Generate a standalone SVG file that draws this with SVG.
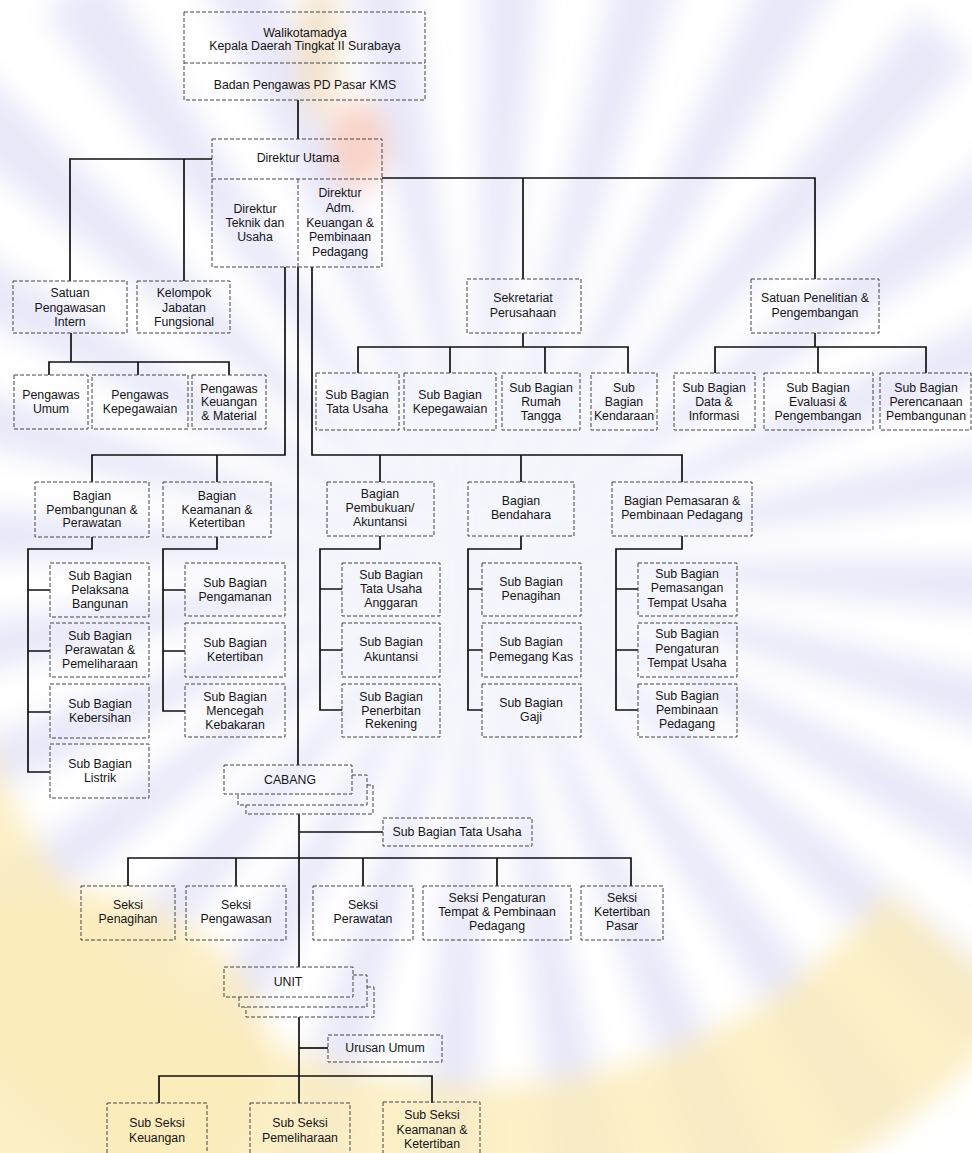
<svg xmlns="http://www.w3.org/2000/svg" width="972" height="1153" viewBox="0 0 972 1153">
  <defs>
    <filter id="haze" filterUnits="userSpaceOnUse" x="0" y="0" width="972" height="1153">
      <feGaussianBlur stdDeviation="14"/>
    </filter>
    <style>
      .box { fill: none; stroke: #444; stroke-width: 1; stroke-dasharray: 4 2; }
      .wire { fill: none; stroke: #111; stroke-width: 1.7; stroke-linejoin: miter; }
      text { font-family: "Liberation Sans", Arial, sans-serif; font-size: 12.3px; fill: #151515; text-anchor: middle; dominant-baseline: central; }
    </style>
  </defs>

  <!-- paper and faint seal printed behind the chart -->
  <rect x="0" y="0" width="972" height="1153" fill="#ffffff"/>
  <g id="watermark" filter="url(#haze)">
    <circle cx="480" cy="560" r="350" fill="none" stroke="#d8d8f5" stroke-width="700" stroke-dasharray="36 42.54" opacity="0.6"/>
    <circle cx="480" cy="560" r="615" fill="none" stroke="#fbedbd" stroke-width="180" stroke-dasharray="0 420 1720 1725" opacity="0.85"/>
    <ellipse cx="60" cy="1060" rx="210" ry="170" fill="#fbecbb" opacity="0.85"/>
    <ellipse cx="318" cy="50" rx="22" ry="70" fill="#f3e3cc"/>
    <ellipse cx="358" cy="145" rx="30" ry="45" fill="#f8cbbd" opacity="0.85"/>
  </g>

  <!-- connectors -->
  <g id="connectors" class="wire">
    <path d="M298 100 V139"/>
    <path d="M212 159 H70 V281"/>
    <path d="M184 159 V281"/>
    <path d="M382 178 H815 V279"/>
    <path d="M523 178 V279"/>
    <path d="M71 333 V362"/>
    <path d="M49 375 V362 H229 V375"/>
    <path d="M138 362 V375"/>
    <path d="M523 333 V347"/>
    <path d="M358 373 V347 H628 V373"/>
    <path d="M450 347 V373"/>
    <path d="M545 347 V373"/>
    <path d="M815 333 V347"/>
    <path d="M715 373 V347 H926 V373"/>
    <path d="M818 347 V373"/>
    <path d="M285 267 V455 H92 V482"/>
    <path d="M217 455 V482"/>
    <path d="M312 267 V455 H682 V482"/>
    <path d="M380 455 V482"/>
    <path d="M521 455 V482"/>
    <path d="M298 267 V765"/>
    <path d="M92 537 V549 H28 V772 H50"/>
    <path d="M28 590 H50 M28 651 H50 M28 712 H50"/>
    <path d="M217 537 V549 H163 V711 H185"/>
    <path d="M163 590 H185 M163 651 H185"/>
    <path d="M380 536 V549 H320 V710 H342"/>
    <path d="M320 589 H342 M320 650 H342"/>
    <path d="M521 536 V549 H468 V710 H482"/>
    <path d="M468 589 H482 M468 650 H482"/>
    <path d="M682 536 V549 H616 V710 H638"/>
    <path d="M616 589 H638 M616 650 H638"/>
    <path d="M299 814 V967"/>
    <path d="M299 832 H383"/>
    <path d="M128 886 V858 H631 V886"/>
    <path d="M236 858 V886 M363 858 V886 M497 858 V886"/>
    <path d="M299 1017 V1103"/>
    <path d="M299 1048 H328"/>
    <path d="M159 1103 V1076 H432 V1103"/>
  </g>

  <!-- top: city head and supervisory board -->
  <g id="n-walikota">
    <rect class="box" x="184" y="12" width="241" height="88"/>
    <line class="box" x1="184" y1="63" x2="425" y2="63"/>
    <text x="305" y="33">Walikotamadya</text>
    <text x="305" y="46">Kepala Daerah Tingkat II Surabaya</text>
    <text x="305" y="85">Badan Pengawas PD Pasar KMS</text>
  </g>

  <!-- board of directors -->
  <g id="n-direksi">
    <rect class="box" x="212" y="139" width="170" height="128"/>
    <line class="box" x1="212" y1="179" x2="382" y2="179"/>
    <line class="box" x1="298" y1="179" x2="298" y2="267"/>
    <text x="298" y="158">Direktur Utama</text>
    <text x="255" y="209">Direktur</text>
    <text x="255" y="223">Teknik dan</text>
    <text x="255" y="237">Usaha</text>
    <text x="340" y="193">Direktur</text>
    <text x="340" y="208">Adm.</text>
    <text x="340" y="223">Keuangan &amp;</text>
    <text x="340" y="237">Pembinaan</text>
    <text x="340" y="252">Pedagang</text>
  </g>

  <g id="n-spi">
    <rect class="box" x="13" y="281" width="114" height="52"/>
    <text x="70" y="293">Satuan</text>
    <text x="70" y="308">Pengawasan</text>
    <text x="70" y="322">Intern</text>
  </g>
  <g id="n-fungsional">
    <rect class="box" x="137" y="281" width="93" height="52"/>
    <text x="184" y="293">Kelompok</text>
    <text x="184" y="308">Jabatan</text>
    <text x="184" y="322">Fungsional</text>
  </g>
  <g id="n-sekretariat">
    <rect class="box" x="467" y="279" width="114" height="54"/>
    <text x="523" y="298">Sekretariat</text>
    <text x="523" y="313">Perusahaan</text>
  </g>
  <g id="n-litbang">
    <rect class="box" x="751" y="279" width="128" height="54"/>
    <text x="815" y="298">Satuan Penelitian &amp;</text>
    <text x="815" y="313">Pengembangan</text>
  </g>

  <!-- supervisors -->
  <g id="n-pengawas-umum">
    <rect class="box" x="14" y="375" width="74" height="54"/>
    <text x="51" y="395">Pengawas</text>
    <text x="51" y="409">Umum</text>
  </g>
  <g id="n-pengawas-kepegawaian">
    <rect class="box" x="92" y="375" width="96" height="54"/>
    <text x="140" y="395">Pengawas</text>
    <text x="140" y="409">Kepegawaian</text>
  </g>
  <g id="n-pengawas-keuangan">
    <rect class="box" x="192" y="375" width="74" height="54"/>
    <text x="229" y="389">Pengawas</text>
    <text x="229" y="402">Keuangan</text>
    <text x="229" y="416">&amp; Material</text>
  </g>

  <!-- secretariat sub-units -->
  <g id="n-sb-tata-usaha">
    <rect class="box" x="316" y="373" width="83" height="57"/>
    <text x="357" y="395">Sub Bagian</text>
    <text x="357" y="409">Tata Usaha</text>
  </g>
  <g id="n-sb-kepegawaian">
    <rect class="box" x="404" y="373" width="92" height="57"/>
    <text x="450" y="395">Sub Bagian</text>
    <text x="450" y="409">Kepegawaian</text>
  </g>
  <g id="n-sb-rumah-tangga">
    <rect class="box" x="502" y="373" width="78" height="57"/>
    <text x="541" y="388">Sub Bagian</text>
    <text x="541" y="402">Rumah</text>
    <text x="541" y="416">Tangga</text>
  </g>
  <g id="n-sb-kendaraan">
    <rect class="box" x="591" y="373" width="66" height="57"/>
    <text x="624" y="388">Sub</text>
    <text x="624" y="402">Bagian</text>
    <text x="624" y="416">Kendaraan</text>
  </g>

  <!-- research sub-units -->
  <g id="n-sb-data">
    <rect class="box" x="674" y="373" width="81" height="57"/>
    <text x="714" y="388">Sub Bagian</text>
    <text x="714" y="402">Data &amp;</text>
    <text x="714" y="416">Informasi</text>
  </g>
  <g id="n-sb-evaluasi">
    <rect class="box" x="764" y="373" width="109" height="57"/>
    <text x="818" y="388">Sub Bagian</text>
    <text x="818" y="402">Evaluasi &amp;</text>
    <text x="818" y="416">Pengembangan</text>
  </g>
  <g id="n-sb-perencanaan">
    <rect class="box" x="880" y="373" width="91" height="57"/>
    <text x="926" y="388">Sub Bagian</text>
    <text x="926" y="402">Perencanaan</text>
    <text x="926" y="416">Pembangunan</text>
  </g>

  <!-- departments -->
  <g id="n-bg-pembangunan">
    <rect class="box" x="35" y="482" width="114" height="55"/>
    <text x="92" y="496">Bagian</text>
    <text x="92" y="510">Pembangunan &amp;</text>
    <text x="92" y="523">Perawatan</text>
  </g>
  <g id="n-bg-keamanan">
    <rect class="box" x="163" y="482" width="108" height="55"/>
    <text x="217" y="496">Bagian</text>
    <text x="217" y="510">Keamanan &amp;</text>
    <text x="217" y="523">Ketertiban</text>
  </g>
  <g id="n-bg-pembukuan">
    <rect class="box" x="327" y="482" width="107" height="54"/>
    <text x="380" y="494">Bagian</text>
    <text x="380" y="508">Pembukuan/</text>
    <text x="380" y="522">Akuntansi</text>
  </g>
  <g id="n-bg-bendahara">
    <rect class="box" x="468" y="482" width="106" height="54"/>
    <text x="521" y="501">Bagian</text>
    <text x="521" y="515">Bendahara</text>
  </g>
  <g id="n-bg-pemasaran">
    <rect class="box" x="612" y="482" width="140" height="54"/>
    <text x="682" y="501">Bagian Pemasaran &amp;</text>
    <text x="682" y="515">Pembinaan Pedagang</text>
  </g>

  <!-- sub-departments: construction and maintenance -->
  <g id="n-sb-pelaksana">
    <rect class="box" x="50" y="563" width="99" height="54"/>
    <text x="100" y="576">Sub Bagian</text>
    <text x="100" y="590">Pelaksana</text>
    <text x="100" y="604">Bangunan</text>
  </g>
  <g id="n-sb-perawatan">
    <rect class="box" x="50" y="623" width="99" height="54"/>
    <text x="100" y="636">Sub Bagian</text>
    <text x="100" y="650">Perawatan &amp;</text>
    <text x="100" y="664">Pemeliharaan</text>
  </g>
  <g id="n-sb-kebersihan">
    <rect class="box" x="50" y="684" width="99" height="54"/>
    <text x="100" y="704">Sub Bagian</text>
    <text x="100" y="718">Kebersihan</text>
  </g>
  <g id="n-sb-listrik">
    <rect class="box" x="50" y="744" width="99" height="54"/>
    <text x="100" y="764">Sub Bagian</text>
    <text x="100" y="778">Listrik</text>
  </g>

  <!-- sub-departments: security -->
  <g id="n-sb-pengamanan">
    <rect class="box" x="185" y="563" width="100" height="53"/>
    <text x="235" y="583">Sub Bagian</text>
    <text x="235" y="597">Pengamanan</text>
  </g>
  <g id="n-sb-ketertiban">
    <rect class="box" x="185" y="623" width="100" height="54"/>
    <text x="235" y="643">Sub Bagian</text>
    <text x="235" y="657">Ketertiban</text>
  </g>
  <g id="n-sb-kebakaran">
    <rect class="box" x="185" y="684" width="100" height="53"/>
    <text x="235" y="697">Sub Bagian</text>
    <text x="235" y="711">Mencegah</text>
    <text x="235" y="725">Kebakaran</text>
  </g>

  <!-- sub-departments: accounting -->
  <g id="n-sb-anggaran">
    <rect class="box" x="342" y="563" width="98" height="53"/>
    <text x="391" y="575">Sub Bagian</text>
    <text x="391" y="589">Tata Usaha</text>
    <text x="391" y="603">Anggaran</text>
  </g>
  <g id="n-sb-akuntansi">
    <rect class="box" x="342" y="623" width="98" height="54"/>
    <text x="391" y="642">Sub Bagian</text>
    <text x="391" y="657">Akuntansi</text>
  </g>
  <g id="n-sb-rekening">
    <rect class="box" x="342" y="684" width="98" height="53"/>
    <text x="391" y="697">Sub Bagian</text>
    <text x="391" y="711">Penerbitan</text>
    <text x="391" y="724">Rekening</text>
  </g>

  <!-- sub-departments: treasury -->
  <g id="n-sb-penagihan">
    <rect class="box" x="482" y="563" width="99" height="53"/>
    <text x="531" y="582">Sub Bagian</text>
    <text x="531" y="596">Penagihan</text>
  </g>
  <g id="n-sb-kas">
    <rect class="box" x="482" y="623" width="99" height="54"/>
    <text x="531" y="642">Sub Bagian</text>
    <text x="531" y="657">Pemegang Kas</text>
  </g>
  <g id="n-sb-gaji">
    <rect class="box" x="482" y="684" width="99" height="53"/>
    <text x="531" y="703">Sub Bagian</text>
    <text x="531" y="717">Gaji</text>
  </g>

  <!-- sub-departments: marketing and trader development -->
  <g id="n-sb-pemasangan">
    <rect class="box" x="638" y="563" width="99" height="53"/>
    <text x="687" y="574">Sub Bagian</text>
    <text x="687" y="588">Pemasangan</text>
    <text x="687" y="603">Tempat Usaha</text>
  </g>
  <g id="n-sb-pengaturan">
    <rect class="box" x="638" y="623" width="99" height="54"/>
    <text x="687" y="634">Sub Bagian</text>
    <text x="687" y="649">Pengaturan</text>
    <text x="687" y="663">Tempat Usaha</text>
  </g>
  <g id="n-sb-pembinaan">
    <rect class="box" x="638" y="684" width="99" height="53"/>
    <text x="687" y="696">Sub Bagian</text>
    <text x="687" y="710">Pembinaan</text>
    <text x="687" y="724">Pedagang</text>
  </g>

  <!-- branch offices (stacked) -->
  <g id="n-cabang">
    <path class="box" d="M352 775 H367 V805 H238 V794"/>
    <path class="box" d="M367 785 H373 V814 H246 V805"/>
    <rect class="box" x="224" y="765" width="128" height="29"/>
    <text x="290" y="780">CABANG</text>
  </g>
  <g id="n-cabang-tu">
    <rect class="box" x="383" y="818" width="149" height="28"/>
    <text x="457" y="832">Sub Bagian Tata Usaha</text>
  </g>

  <!-- branch sections -->
  <g id="n-seksi-penagihan">
    <rect class="box" x="81" y="886" width="94" height="54"/>
    <text x="128" y="905">Seksi</text>
    <text x="128" y="919">Penagihan</text>
  </g>
  <g id="n-seksi-pengawasan">
    <rect class="box" x="186" y="886" width="100" height="54"/>
    <text x="236" y="905">Seksi</text>
    <text x="236" y="919">Pengawasan</text>
  </g>
  <g id="n-seksi-perawatan">
    <rect class="box" x="313" y="886" width="100" height="54"/>
    <text x="363" y="905">Seksi</text>
    <text x="363" y="919">Perawatan</text>
  </g>
  <g id="n-seksi-pengaturan">
    <rect class="box" x="423" y="886" width="148" height="54"/>
    <text x="497" y="898">Seksi Pengaturan</text>
    <text x="497" y="912">Tempat &amp; Pembinaan</text>
    <text x="497" y="926">Pedagang</text>
  </g>
  <g id="n-seksi-ketertiban">
    <rect class="box" x="581" y="886" width="82" height="54"/>
    <text x="622" y="898">Seksi</text>
    <text x="622" y="912">Ketertiban</text>
    <text x="622" y="926">Pasar</text>
  </g>

  <!-- market units (stacked) -->
  <g id="n-unit">
    <path class="box" d="M353 975 H367 V1007 H239 V997"/>
    <path class="box" d="M367 987 H374 V1017 H246 V1007"/>
    <rect class="box" x="224" y="967" width="129" height="30"/>
    <text x="288" y="982">UNIT</text>
  </g>
  <g id="n-urusan-umum">
    <rect class="box" x="328" y="1035" width="114" height="27"/>
    <text x="385" y="1048">Urusan Umum</text>
  </g>

  <!-- unit sub-sections -->
  <g id="n-ss-keuangan">
    <rect class="box" x="107" y="1103" width="100" height="60"/>
    <text x="157" y="1123">Sub Seksi</text>
    <text x="157" y="1138">Keuangan</text>
  </g>
  <g id="n-ss-pemeliharaan">
    <rect class="box" x="250" y="1103" width="100" height="60"/>
    <text x="300" y="1123">Sub Seksi</text>
    <text x="300" y="1138">Pemeliharaan</text>
  </g>
  <g id="n-ss-keamanan">
    <rect class="box" x="383" y="1102" width="97" height="61"/>
    <text x="432" y="1115">Sub Seksi</text>
    <text x="432" y="1130">Keamanan &amp;</text>
    <text x="432" y="1144">Ketertiban</text>
  </g>
</svg>
